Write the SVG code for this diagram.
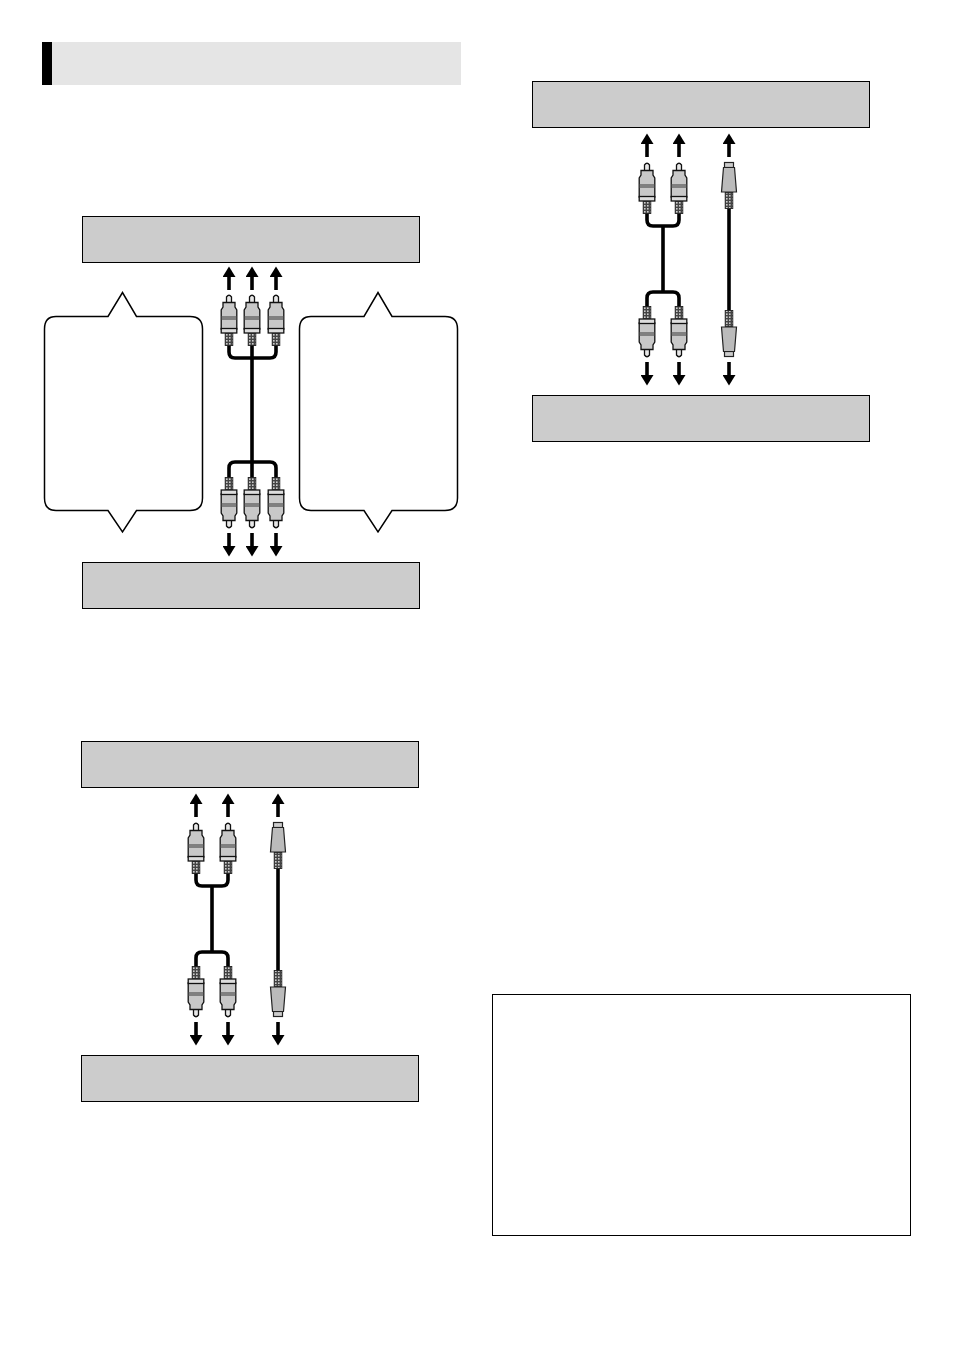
<svg xmlns="http://www.w3.org/2000/svg" xmlns:xlink="http://www.w3.org/1999/xlink" width="954" height="1348" viewBox="0 0 954 1348">
<style>
.dev{fill:#ccc;stroke:#000;stroke-width:1}
.bubble{fill:#fff;stroke:#000;stroke-width:1.5;stroke-linejoin:miter}
.cable{fill:none;stroke:#000;stroke-width:3.6}
.arrow{fill:none;stroke:#000;stroke-width:3.6}
.p{stroke:#111;stroke-width:1.3;fill:#c8c8c8}
.s{stroke:#222;stroke-width:1.2;fill:#aaa}
</style>
<defs>
<marker id="head" markerUnits="userSpaceOnUse" markerWidth="14" markerHeight="13" refX="1" refY="6.500" orient="auto">
<path d="M0,0 L10.500,6.500 L0,13 Z" fill="#000"/>
</marker>
<pattern id="hatch" width="3" height="3" patternUnits="userSpaceOnUse">
<rect width="3" height="3" fill="#444"/><rect width="1.6" height="1.6" fill="#ccc"/>
</pattern>
<g id="rca">
<path class="p" style="fill:#e8e8e8" d="M-2.500,8 V2 Q0,-1.500 2.500,2 V8 Z"/>
<path class="p" d="M-6,7.500 H6 V12 L7.800,15 V34 H-7.800 V15 L-6,12 Z"/>
<rect x="-7.200" y="21" width="14.400" height="4" fill="#808080"/>
<rect x="-7.800" y="33.500" width="15.600" height="4.500" class="p" style="fill:#ddd"/>
<rect x="-3.800" y="38.500" width="7.600" height="12" fill="url(#hatch)" stroke="#222" stroke-width="0.9"/>
</g>
<g id="sv">
<rect class="s" x="-4.500" y="0.500" width="9" height="5" style="fill:#ccc"/>
<path class="s" d="M-5.500,5.500 H5.500 L7.500,30 H-7.500 Z" style="fill:#bbb"/>
<rect x="-3.800" y="30.500" width="7.600" height="16" fill="url(#hatch)" stroke="#222" stroke-width="0.9"/>
</g>
</defs>
<rect width="954" height="1348" fill="#fff"/>
<g id="section-header">
<rect x="52" y="42" width="409" height="43" fill="#e5e5e5"/>
<rect x="42" y="42" width="10" height="43" fill="#000"/>
</g>
<g id="box-d1-top"><rect class="dev" x="82.500" y="216.500" width="337" height="46"/></g>
<g id="box-d1-bottom"><rect class="dev" x="82.500" y="562.500" width="337" height="46"/></g>
<g id="box-d2-top"><rect class="dev" x="81.500" y="741.500" width="337" height="46"/></g>
<g id="box-d2-bottom"><rect class="dev" x="81.500" y="1055.500" width="337" height="46"/></g>
<g id="box-d3-top"><rect class="dev" x="532.500" y="81.500" width="337" height="46"/></g>
<g id="box-d3-bottom"><rect class="dev" x="532.500" y="395.500" width="337" height="46"/></g>
<g id="note-box"><rect x="492.500" y="994.500" width="418" height="241" fill="#fff" stroke="#000" stroke-width="1"/></g>
<g id="callout-left"><path class="bubble" d="M56,316.500 H108 L122.500,292.500 L136.500,316.500 H190 Q202.500,316.500 202.500,329 V498 Q202.500,510.500 190,510.500 H136.500 L122.500,532 L108,510.500 H56 Q44.500,510.500 44.500,498 V329 Q44.500,316.500 56,316.500 Z"/></g>
<g id="callout-right"><path class="bubble" d="M311,316.500 H364 L378,292.500 L392,316.500 H445 Q457.500,316.500 457.500,329 V498 Q457.500,510.500 445,510.500 H392 L378,532 L364,510.500 H311 Q299.500,510.500 299.500,498 V329 Q299.500,316.500 311,316.500 Z"/></g>
<g id="connectors">
<path class="cable" d="M229,345 V352 Q229,358 235,358 H270 Q276,358 276,352 V345 M252,345 V480 M229,484 V468 Q229,462 235,462 H270 Q276,462 276,468 V484"/>
<path class="cable" d="M196,870 V880 Q196,886 202,886 H222 Q228,886 228,880 V870 M212,886 V952 M196,972 V958 Q196,952 202,952 H222 Q228,952 228,958 V972"/>
<path class="cable" d="M278,866 V972"/>
<path class="cable" d="M647,210 V220 Q647,226 653,226 H673 Q679,226 679,220 V210 M663,226 V292 M647,312 V298 Q647,292 653,292 H673 Q679,292 679,298 V312"/>
<path class="cable" d="M729,206 V312"/>
<g class="arrows">
<path class="arrow" marker-end="url(#head)" d="M229,290 V276"/><path class="arrow" marker-end="url(#head)" d="M252,290 V276"/><path class="arrow" marker-end="url(#head)" d="M276,290 V276"/>
<path class="arrow" marker-end="url(#head)" d="M229,533 V547"/><path class="arrow" marker-end="url(#head)" d="M252,533 V547"/><path class="arrow" marker-end="url(#head)" d="M276,533 V547"/>
<path class="arrow" marker-end="url(#head)" d="M196,817 V803"/><path class="arrow" marker-end="url(#head)" d="M228,817 V803"/><path class="arrow" marker-end="url(#head)" d="M278,817 V803"/>
<path class="arrow" marker-end="url(#head)" d="M196,1022 V1036"/><path class="arrow" marker-end="url(#head)" d="M228,1022 V1036"/><path class="arrow" marker-end="url(#head)" d="M278,1022 V1036"/>
<path class="arrow" marker-end="url(#head)" d="M647,157 V143"/><path class="arrow" marker-end="url(#head)" d="M679,157 V143"/><path class="arrow" marker-end="url(#head)" d="M729,157 V143"/>
<path class="arrow" marker-end="url(#head)" d="M647,362 V376"/><path class="arrow" marker-end="url(#head)" d="M679,362 V376"/><path class="arrow" marker-end="url(#head)" d="M729,362 V376"/>
</g>
</g>
<g id="plugs-d1">
<use xlink:href="#rca" href="#rca" transform="translate(229,295)"/><use xlink:href="#rca" href="#rca" transform="translate(252,295)"/><use xlink:href="#rca" href="#rca" transform="translate(276,295)"/>
<use xlink:href="#rca" href="#rca" transform="translate(229,528) scale(1,-1)"/><use xlink:href="#rca" href="#rca" transform="translate(252,528) scale(1,-1)"/><use xlink:href="#rca" href="#rca" transform="translate(276,528) scale(1,-1)"/>
</g>
<g id="plugs-d2">
<use xlink:href="#rca" href="#rca" transform="translate(196,823)"/><use xlink:href="#rca" href="#rca" transform="translate(228,823)"/>
<use xlink:href="#rca" href="#rca" transform="translate(196,1017) scale(1,-1)"/><use xlink:href="#rca" href="#rca" transform="translate(228,1017) scale(1,-1)"/>
<use xlink:href="#sv" href="#sv" transform="translate(278,822)"/><use xlink:href="#sv" href="#sv" transform="translate(278,1017) scale(1,-1)"/>
</g>
<g id="plugs-d3">
<use xlink:href="#rca" href="#rca" transform="translate(647,163)"/><use xlink:href="#rca" href="#rca" transform="translate(679,163)"/>
<use xlink:href="#rca" href="#rca" transform="translate(647,357) scale(1,-1)"/><use xlink:href="#rca" href="#rca" transform="translate(679,357) scale(1,-1)"/>
<use xlink:href="#sv" href="#sv" transform="translate(729,162)"/><use xlink:href="#sv" href="#sv" transform="translate(729,357) scale(1,-1)"/>
</g>
</svg>
